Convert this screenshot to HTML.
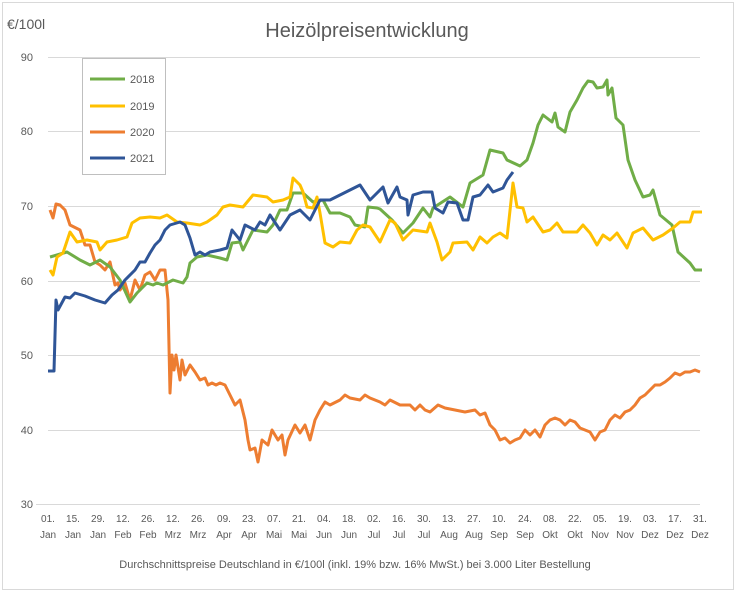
<!DOCTYPE html>
<html><head><meta charset="utf-8"><style>
html,body{margin:0;padding:0;background:#fff;}
svg{display:block;font-family:"Liberation Sans",sans-serif;}
</style></head><body>
<svg width="736" height="592" viewBox="0 0 736 592" xmlns="http://www.w3.org/2000/svg">
<rect x="2.5" y="2.5" width="731" height="587" fill="#fff" stroke="#d9d9d9"/>
<text x="367" y="37" font-size="20" fill="#595959" text-anchor="middle">Heizölpreisentwicklung</text>
<text x="7" y="29" font-size="14" fill="#595959">€/100l</text>
<g stroke="#d9d9d9" stroke-width="1">
<line x1="48" y1="57.5" x2="700" y2="57.5"/>
<line x1="48" y1="131.5" x2="700" y2="131.5"/>
<line x1="48" y1="206.5" x2="700" y2="206.5"/>
<line x1="48" y1="281.5" x2="700" y2="281.5"/>
<line x1="48" y1="355.5" x2="700" y2="355.5"/>
<line x1="48" y1="430.5" x2="700" y2="430.5"/>
<line x1="36" y1="504.5" x2="700" y2="504.5"/>
</g>
<g font-size="11" fill="#595959" text-anchor="end">
<text x="33" y="61">90</text><text x="33" y="135">80</text><text x="33" y="210">70</text>
<text x="33" y="285">60</text><text x="33" y="359">50</text><text x="33" y="434">40</text><text x="33" y="508">30</text>
</g>
<g fill="none" stroke-width="3" stroke-linejoin="round">
<polyline stroke="#ed7d31" points="50,210 53,218 56,204 60,205 65,210 70,225 80,230 85,245 90,245 95,262 100,265 105,270 110,262 115,285 118,283 120,290 125,283 130,300 135,280 140,290 145,275 150,272 155,280 160,270 165,270 168,300 170,393 172,355 174,370 176,355 180,380 182,360 185,375 190,365 195,372 200,380 205,378 208,385 212,383 216,385 220,383 225,385 230,395 235,405 240,400 245,420 248,440 250,450 255,448 258,462 262,440 268,445 272,430 278,440 282,435 285,455 288,440 295,425 300,433 305,425 310,440 315,420 320,410 325,402 330,405 340,400 345,395 350,398 360,400 365,395 370,398 375,400 380,402 385,405 390,400 400,405 410,405 415,410 420,405 425,410 430,412 438,405 445,408 455,410 465,412 475,410 480,415 485,413 490,425 495,430 500,440 505,438 510,443 515,440 520,438 525,430 530,435 535,430 540,437 545,425 550,420 555,418 560,420 565,425 570,420 575,422 580,428 585,430 590,432 595,440 600,432 605,430 610,420 615,415 620,418 625,412 630,410 635,405 640,398 645,395 650,390 655,385 660,385 665,382 670,378 675,373 680,375 685,372 690,372 695,370 700,372"/>
<polyline stroke="#70ad47" points="50,257 67,252 80,260 90,265 100,260 110,267 120,280 130,302 137,293 147,283 153,285 157,283 163,285 173,280 183,283 187,277 190,263 197,257 207,255 220,258 227,260 232,243 240,242 243,250 253,230 267,232 273,225 280,210 287,210 293,193 303,193 313,202 323,200 330,213 340,213 350,217 355,225 365,227 368,207 377,208 380,209 392,220 403,233 413,223 423,208 430,217 433,208 450,197 463,207 470,183 483,175 490,150 503,153 507,160 520,166 527,160 533,143 538,125 543,115 552,122 555,113 558,127 565,132 570,112 577,100 583,88 588,81 593,82 597,88 603,87 607,80 608,95 612,88 616,118 623,125 628,160 635,180 643,197 650,195 653,190 660,215 672,225 678,252 690,263 695,270 702,270"/>
<polyline stroke="#ffc000" points="50,270 53,275 57,257 63,253 70,232 77,242 87,240 97,242 100,250 107,242 117,240 127,237 132,223 140,218 150,217 160,218 167,215 177,222 187,223 200,225 207,222 217,215 223,207 230,205 243,207 253,195 267,197 273,202 283,200 290,197 293,178 300,185 303,192 307,207 313,208 317,197 320,213 325,243 333,247 340,242 350,243 357,230 363,225 370,227 380,242 390,220 395,223 403,240 413,230 427,232 430,223 437,242 442,260 450,252 453,243 467,242 473,250 480,237 487,243 493,237 500,233 507,238 513,183 517,207 523,208 527,222 533,217 543,232 550,230 557,223 563,232 577,232 583,225 590,233 597,245 603,235 610,240 617,233 627,248 633,233 643,228 653,240 663,235 673,228 680,222 690,222 693,212 702,212"/>
<polyline stroke="#2f5597" points="48,371 54,371 56,300 58,310 65,297 70,298 75,293 85,296 95,300 105,303 112,295 118,290 125,280 135,270 140,262 145,262 150,253 155,245 160,240 165,230 170,225 180,222 185,225 190,238 195,255 200,252 205,255 210,252 220,250 227,248 232,230 240,240 245,225 255,230 260,222 265,225 270,215 280,230 290,215 300,210 310,220 320,200 330,200 340,195 350,190 360,185 370,200 383,187 388,203 397,187 400,197 407,200 408,215 413,195 423,192 432,192 435,208 443,213 448,202 457,203 463,220 468,220 473,197 480,195 488,185 493,192 503,188 507,180 513,172"/>
</g>
<rect x="82.5" y="58.5" width="83" height="116" fill="#fff" stroke="#bfbfbf"/>
<g stroke-width="3">
<line x1="90" y1="79" x2="125" y2="79" stroke="#70ad47"/>
<line x1="90" y1="106" x2="125" y2="106" stroke="#ffc000"/>
<line x1="90" y1="132" x2="125" y2="132" stroke="#ed7d31"/>
<line x1="90" y1="158" x2="125" y2="158" stroke="#2f5597"/>
</g>
<g font-size="11" fill="#595959">
<text x="130" y="83">2018</text><text x="130" y="110">2019</text>
<text x="130" y="136">2020</text><text x="130" y="162">2021</text>
</g>
<text x="355" y="568" font-size="11" fill="#595959" text-anchor="middle">Durchschnittspreise Deutschland in €/100l (inkl. 19% bzw. 16%  MwSt.) bei 3.000 Liter Bestellung</text>
<g font-size="10" fill="#595959" text-anchor="middle">
<text x="48" y="522">01.</text><text x="48" y="538">Jan</text>
<text x="73" y="522">15.</text><text x="73" y="538">Jan</text>
<text x="98" y="522">29.</text><text x="98" y="538">Jan</text>
<text x="123" y="522">12.</text><text x="123" y="538">Feb</text>
<text x="148" y="522">26.</text><text x="148" y="538">Feb</text>
<text x="173" y="522">12.</text><text x="173" y="538">Mrz</text>
<text x="198" y="522">26.</text><text x="198" y="538">Mrz</text>
<text x="224" y="522">09.</text><text x="224" y="538">Apr</text>
<text x="249" y="522">23.</text><text x="249" y="538">Apr</text>
<text x="274" y="522">07.</text><text x="274" y="538">Mai</text>
<text x="299" y="522">21.</text><text x="299" y="538">Mai</text>
<text x="324" y="522">04.</text><text x="324" y="538">Jun</text>
<text x="349" y="522">18.</text><text x="349" y="538">Jun</text>
<text x="374" y="522">02.</text><text x="374" y="538">Jul</text>
<text x="399" y="522">16.</text><text x="399" y="538">Jul</text>
<text x="424" y="522">30.</text><text x="424" y="538">Jul</text>
<text x="449" y="522">13.</text><text x="449" y="538">Aug</text>
<text x="474" y="522">27.</text><text x="474" y="538">Aug</text>
<text x="499" y="522">10.</text><text x="499" y="538">Sep</text>
<text x="525" y="522">24.</text><text x="525" y="538">Sep</text>
<text x="550" y="522">08.</text><text x="550" y="538">Okt</text>
<text x="575" y="522">22.</text><text x="575" y="538">Okt</text>
<text x="600" y="522">05.</text><text x="600" y="538">Nov</text>
<text x="625" y="522">19.</text><text x="625" y="538">Nov</text>
<text x="650" y="522">03.</text><text x="650" y="538">Dez</text>
<text x="675" y="522">17.</text><text x="675" y="538">Dez</text>
<text x="700" y="522">31.</text><text x="700" y="538">Dez</text>
</g>
</svg>
</body></html>
